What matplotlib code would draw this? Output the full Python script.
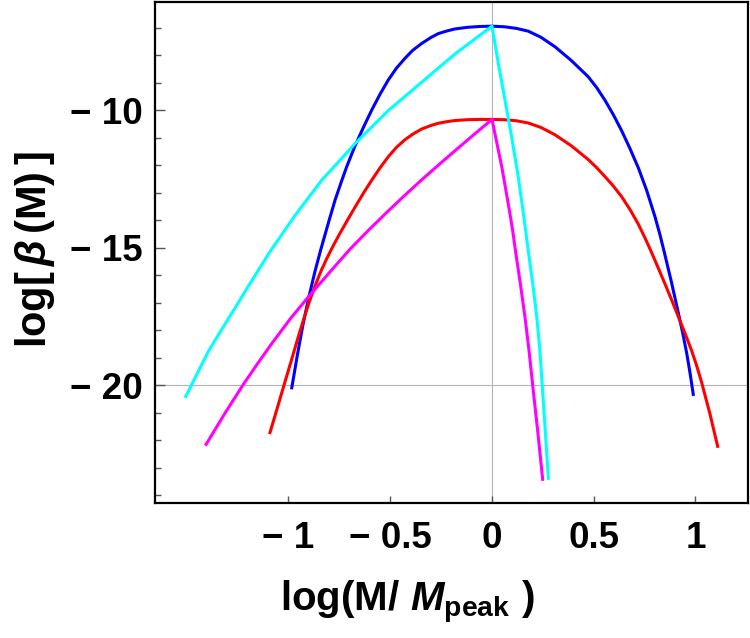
import matplotlib
matplotlib.use("Agg")
import matplotlib.pyplot as plt
from matplotlib.ticker import FixedLocator

# ---- data ----
blue_x = [-0.984, -0.97, -0.955, -0.93, -0.903, -0.871, -0.842, -0.80, -0.771, -0.74,
          -0.714, -0.673, -0.63, -0.591, -0.55, -0.51, -0.47, -0.428, -0.39, -0.346,
          -0.30, -0.264, -0.22, -0.182, -0.12, -0.06, 0.0,
          0.06, 0.12, 0.178, 0.24, 0.31, 0.39, 0.473, 0.515, 0.555, 0.597,
          0.637, 0.678, 0.719, 0.76, 0.801, 0.826, 0.846, 0.88, 0.916, 0.937,
          0.957, 0.974, 0.989]
blue_y = [-20.1, -19.5, -18.85, -17.85, -16.9, -15.9, -15.09, -14.0, -13.27, -12.6,
          -12.06, -11.3, -10.6, -10.0, -9.42, -8.91, -8.48, -8.12, -7.83, -7.58,
          -7.36, -7.22, -7.12, -7.05, -6.99, -6.96, -6.95,
          -6.97, -7.03, -7.13, -7.35, -7.7, -8.2, -8.79, -9.19, -9.64, -10.18,
          -10.75, -11.4, -12.1, -12.92, -13.88, -14.55, -15.15, -16.2, -17.39, -18.1,
          -18.85, -19.6, -20.34]

red_x = [-1.091, -1.06, -1.033, -1.001, -0.975, -0.952, -0.925, -0.90, -0.87, -0.84,
         -0.81, -0.78, -0.747, -0.71, -0.673, -0.63, -0.591, -0.55, -0.51, -0.47,
         -0.428, -0.39, -0.346, -0.30, -0.264, -0.22, -0.182, -0.12, -0.06, 0.0,
         0.06, 0.12, 0.178, 0.24, 0.31, 0.39, 0.473, 0.515, 0.555, 0.597,
         0.637, 0.68, 0.719, 0.75, 0.78, 0.815, 0.85, 0.883, 0.916, 0.95,
         0.981, 1.005, 1.03, 1.07, 1.109]
red_y = [-21.73, -20.96, -20.28, -19.48, -18.83, -18.25, -17.6, -17.02, -16.4, -15.85,
         -15.37, -14.93, -14.48, -14.0, -13.53, -13.0, -12.55, -12.1, -11.70, -11.36,
         -11.08, -10.88, -10.69, -10.56, -10.48, -10.42, -10.38, -10.35, -10.34, -10.34,
         -10.35, -10.39, -10.47, -10.63, -10.9, -11.3, -11.8, -12.1, -12.42, -12.77,
         -13.15, -13.64, -14.15, -14.62, -15.11, -15.71, -16.32, -16.91, -17.52, -18.15,
         -18.75, -19.28, -19.9, -21.02, -22.23]

cyan_x = [-1.505, -1.45, -1.394, -1.33, -1.263, -1.18, -1.091, -1.03, -0.968, -0.90,
          -0.837, -0.76, -0.673, -0.59, -0.51, -0.43, -0.346, -0.26, -0.182, -0.09,
          0.0, 0.034, 0.064, 0.097, 0.129, 0.155, 0.178, 0.2, 0.22, 0.235,
          0.247, 0.262, 0.277]
cyan_y = [-20.42, -19.6, -18.78, -18.0, -17.2, -16.2, -15.15, -14.5, -13.83, -13.17,
          -12.55, -11.93, -11.22, -10.61, -10.02, -9.52, -8.99, -8.45, -7.96, -7.45,
          -6.95, -8.42, -9.64, -11.0, -12.43, -13.8, -15.1, -16.3, -17.52, -18.7,
          -20.01, -21.7, -23.39]

magenta_x = [-1.405, -1.31, -1.222, -1.15, -1.083, -0.99, -0.903, -0.80, -0.698, -0.60,
             -0.51, -0.43, -0.346, -0.26, -0.182, -0.09, 0.0,
             0.024, 0.048, 0.068, 0.088, 0.103, 0.117, 0.14, 0.162, 0.182,
             0.2, 0.225, 0.249]
magenta_y = [-22.16, -21.0, -19.98, -19.2, -18.5, -17.58, -16.8, -15.92, -15.06, -14.32,
             -13.67, -13.11, -12.54, -11.98, -11.48, -10.9, -10.34,
             -11.2, -12.06, -12.9, -13.76, -14.45, -15.2, -16.35, -17.52, -18.75,
             -20.01, -21.7, -23.43]

x_ticks = [-1, -0.5, 0, 0.5, 1]
x_ticklabels = ["\u2212 1", "\u2212 0.5", "0", "0.5", "1"]
y_major = [-20, -15, -10]
y_ticklabels = ["\u2212 20", "\u2212 15", "\u2212 10"]
y_minor = list(range(-24, -6))

# ---- style ----
plt.rcParams['font.family'] = ['Liberation Sans', 'DejaVu Sans']
plt.rcParams['font.weight'] = 'bold'
plt.rcParams['mathtext.fontset'] = 'custom'
plt.rcParams['mathtext.rm'] = 'Liberation Sans:bold'
plt.rcParams['mathtext.bf'] = 'Liberation Sans:bold'
plt.rcParams['mathtext.it'] = 'Liberation Sans:bold:italic'
plt.rcParams['mathtext.sf'] = 'Liberation Sans:bold'

fig = plt.figure(figsize=(7.5, 6.38), dpi=100)
ax = fig.add_axes([155/750, 1 - 503/638, (748-155)/750, (503-2)/638])

ax.axhline(-20, color='#b4b4b4', lw=0.8, zorder=1)
ax.axvline(0, color='#b4b4b4', lw=0.8, zorder=1)

lw = 2.2
ax.plot(blue_x, blue_y, color='#0000ff', lw=lw, zorder=3)
ax.plot(red_x, red_y, color='#ff0000', lw=lw, zorder=3)
ax.plot(cyan_x, cyan_y, color='#00ffff', lw=lw, zorder=4)
ax.plot(magenta_x, magenta_y, color='#ff00ff', lw=lw, zorder=4)

ax.set_xlim(-1.656, 1.258)
ax.set_ylim(-24.29, -6.07)

for s in ax.spines.values():
    s.set_linewidth(1.6)
    s.set_color('black')

ax.xaxis.set_major_locator(FixedLocator(x_ticks))
ax.set_xticklabels(x_ticklabels)
ax.yaxis.set_major_locator(FixedLocator(y_major))
ax.set_yticklabels(y_ticklabels)
ax.yaxis.set_minor_locator(FixedLocator(y_minor))

ax.tick_params(axis='both', which='both', direction='in', color='#555555',
               labelsize=26.5, width=1.0)
ax.tick_params(axis='x', which='major', length=5, pad=13)
ax.tick_params(axis='y', which='major', length=7, pad=9)
ax.tick_params(axis='y', which='minor', length=4)
for lab in ax.get_xticklabels() + ax.get_yticklabels():
    lab.set_fontweight('bold')

ax.set_xlabel(r'$\mathrm{log(M/}\ \mathit{M}_{\mathrm{peak}}\ \mathrm{)}$', fontsize=29)
ax.xaxis.set_label_coords((407 - 155) / 593, (503 - 579) / 501)
ax.set_ylabel(r'$\mathrm{log[}\,\beta\,\mathrm{(M)\,]}$', fontsize=30)
ax.yaxis.set_label_coords((57 - 155) / 593, (503 - 250) / 501)

fig.savefig('out.png', dpi=100)
